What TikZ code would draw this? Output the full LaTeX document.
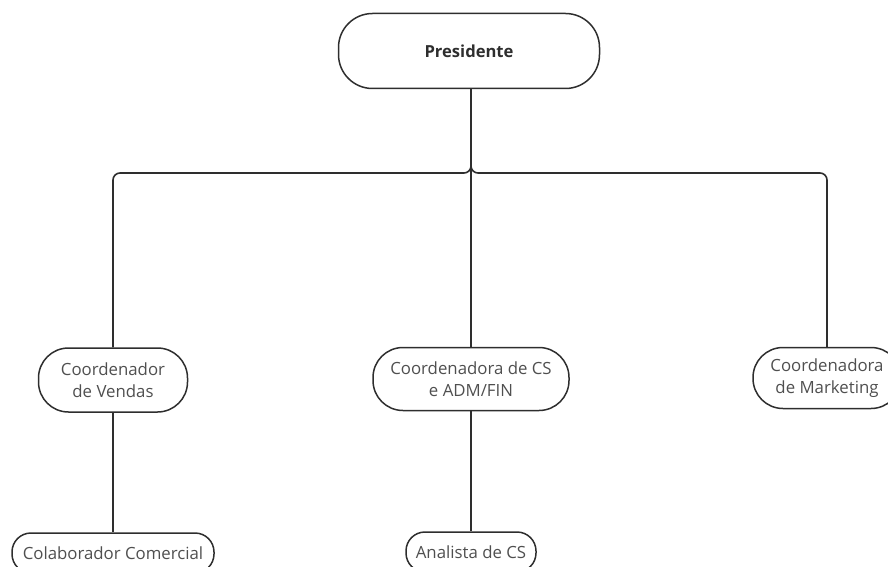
\documentclass[tikz,border=0pt]{standalone}
\usepackage{fontspec}
\setmainfont{Open Sans}
\definecolor{linec}{HTML}{2E2E2E}
\definecolor{txtc}{HTML}{4F4F4F}
\begin{document}
\begin{tikzpicture}[x=1pt,y=-1pt,
  box/.style={draw=linec,line width=1.5pt,rounded corners=#1,align=center,
    font=\fontsize{16.8}{22}\selectfont,text=txtc,inner sep=0pt},
  box/.default=20pt,
  conn/.style={draw=linec,line width=1.6pt,rounded corners=7pt}]
\useasboundingbox (0,0) rectangle (888,567);
\node[box=34pt,minimum width=261pt,minimum height=75pt,font=\fontsize{16.6}{22}\selectfont\bfseries,text=linec] (pres) at (469,51) {Presidente};
\node[box=30pt,minimum width=149pt,minimum height=64pt] (vend) at (113,380) {Coordenador\\de Vendas};
\node[box=30pt,minimum width=196pt,minimum height=63pt] (cs) at (471,379) {Coordenadora de CS\\e ADM/FIN};
\node[box=30pt,minimum width=148pt,minimum height=61pt] (mkt) at (827,378) {Coordenadora\\de Marketing};
\node[box=19pt,minimum width=202pt,minimum height=40pt] (colab) at (113,553) {Colaborador Comercial};
\node[box=19pt,minimum width=130pt,minimum height=40pt] (anal) at (471,552) {Analista de CS};
\coordinate (j) at (471,173);
\draw[conn] (pres.south -| j) -- (cs.north);
\draw[conn] (pres.south -| j) -- (j) -- (j -| vend.north) -- (vend.north);
\draw[conn] (pres.south -| j) -- (j) -- (j -| mkt.north) -- (mkt.north);
\draw[conn] (vend.south) -- (colab.north);
\draw[conn] (cs.south) -- (anal.north);
\end{tikzpicture}
\end{document}
